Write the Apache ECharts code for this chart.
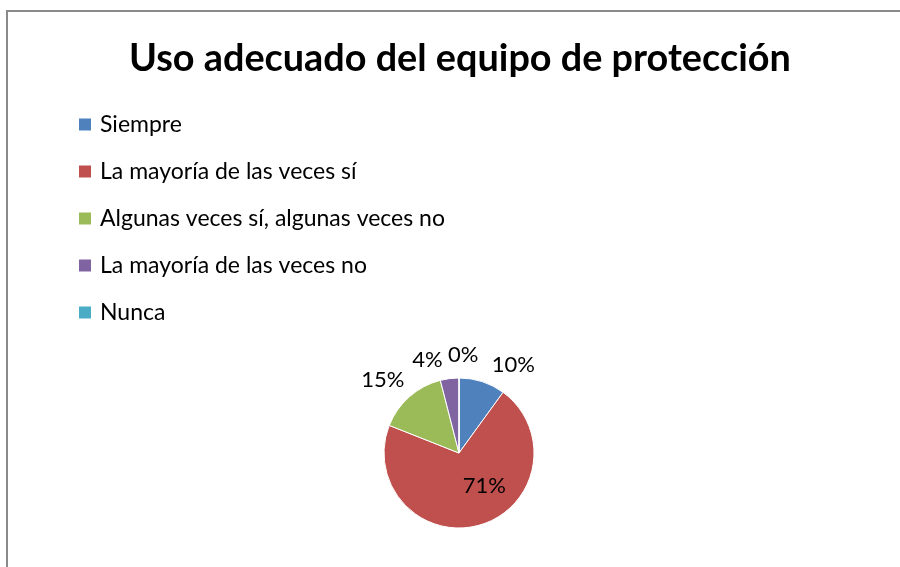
<!DOCTYPE html>
<html>
<head>
<meta charset="utf-8">
<script src="https://cdn.jsdelivr.net/npm/echarts@6/dist/echarts.min.js"></script>
<style>
  html, body { margin: 0; padding: 0; background: #fff; }
  #main { width: 900px; height: 567px; }
</style>
</head>
<body>
<div id="main"></div>
<script>
// datos
var categorias = [
  "Siempre",
  "La mayoría de las veces sí",
  "Algunas veces sí, algunas veces no",
  "La mayoría de las veces no",
  "Nunca"
];
var valores = [10, 71, 15, 4, 0];
var colores = ["#4F81BD", "#C0504D", "#9BBB59", "#8064A2", "#4BACC6"];

// pequeños ajustes de las etiquetas (estilo, como en Excel)
var ajusteEtiqueta = [[0, -2], [14, -6], [10, -6], [0, -4], [-16, -8]];

var myChart = echarts.init(document.getElementById("main"));

var datos = categorias.map(function (nombre, i) {
  var item = { name: nombre, value: valores[i] };
  // la porcion grande lleva la etiqueta dentro
  if (valores[i] > 50) {
    item.label = { position: "inside" };
  }
  return item;
});

myChart.setOption({
  backgroundColor: "#fff",
  color: colores,
  animation: false,
  title: {
    text: "Uso adecuado del equipo de protección",
    left: 124,
    top: 35,
    textStyle: {
      fontFamily: "Lato",
      fontWeight: "bold",
      fontSize: 37.8,
      color: "#000"
    }
  },
  legend: {
    orient: "vertical",
    left: 77,
    top: 113,
    padding: 0,
    itemWidth: 14,
    itemHeight: 14,
    itemGap: 24,
    icon: "rect",
    textStyle: {
      fontFamily: "Lato",
      fontSize: 23,
      color: "#000",
      padding: [0, 0, 0, 3]
    }
  },
  graphic: [
    {
      type: "rect",
      shape: { x: 7, y: 11, width: 920, height: 600 },
      style: { fill: null, stroke: "#8a8a8a", lineWidth: 2 },
      silent: true
    }
  ],
  series: [
    {
      name: "Uso",
      type: "pie",
      center: [459, 453],
      radius: 75,
      startAngle: 90,
      clockwise: true,
      avoidLabelOverlap: false,
      itemStyle: { borderColor: "#fff", borderWidth: 1 },
      label: {
        show: true,
        position: "outside",
        fontFamily: "Lato",
        fontSize: 22,
        color: "#000",
        formatter: function (p) {
          return Math.round(p.percent) + "%";
        }
      },
      labelLine: { show: false, length: 15, length2: 0 },
      labelLayout: function (p) {
        var a = ajusteEtiqueta[p.dataIndex];
        return { dx: a[0], dy: a[1] };
      },
      data: datos
    }
  ]
});
</script>
</body>
</html>
